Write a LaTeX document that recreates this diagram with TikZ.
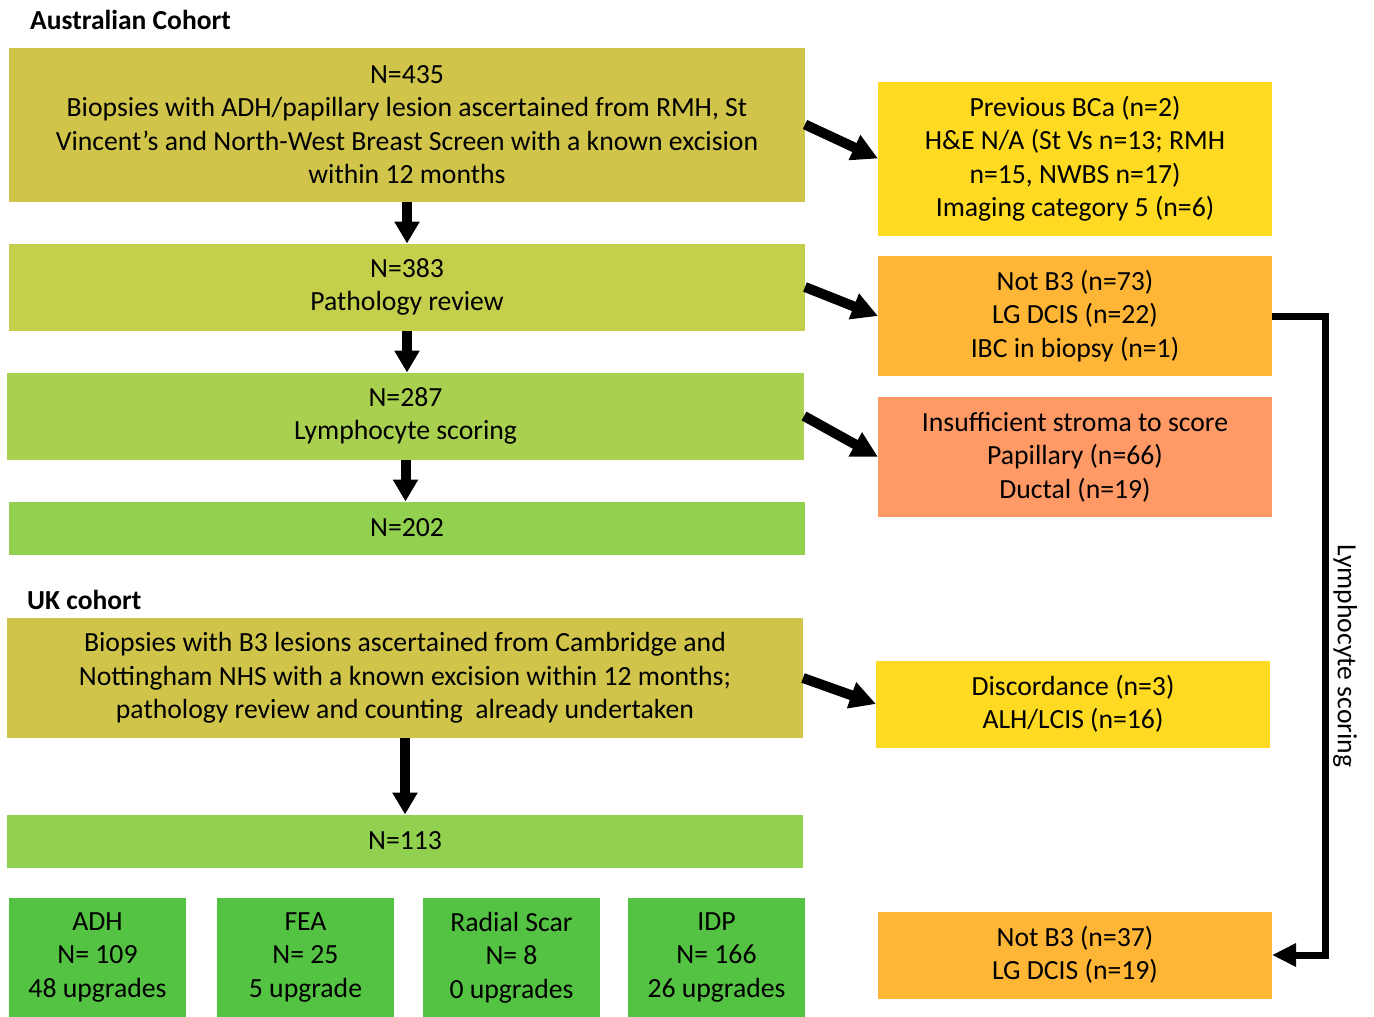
\documentclass[tikz,border=0pt]{standalone}
\usepackage{fontspec}
\setmainfont{Carlito}
\usetikzlibrary{arrows.meta}
\definecolor{cOlive}{RGB}{208,197,74}
\definecolor{cLime}{RGB}{196,208,76}
\definecolor{cYgreen}{RGB}{170,208,80}
\definecolor{cLgreen}{RGB}{146,208,80}
\definecolor{cGreen}{RGB}{84,194,66}
\definecolor{cYellow}{RGB}{255,218,34}
\definecolor{cOrange}{RGB}{255,182,54}
\definecolor{cSalmon}{RGB}{255,153,102}
\begin{document}
\begin{tikzpicture}[x=1pt,y=-1pt,
  box/.style={rectangle, inner sep=0pt, outer sep=0pt, align=center,
              font=\fontsize{27.7}{33.5}\selectfont},
  title/.style={anchor=west, inner sep=0pt, font=\fontsize{27.5}{33}\selectfont\bfseries},
  downarrow/.style={line width=10pt, -{Triangle[width=24pt,length=22pt]}},
  sidearrow/.style={line width=10pt, -{Triangle[width=26pt,length=26pt]}},
  elbowarrow/.style={line width=7pt, -{Triangle[width=22pt,length=24pt]}}
]
\useasboundingbox (0,0) rectangle (1374,1017);

% Titles
\node[title] (t1) at (30,20) {Australian Cohort};
\node[title] (t2) at (27,600) {UK cohort};

% Australian column
\node[box, fill=cOlive, minimum width=796pt, minimum height=154pt] (A1) at (407,124.5)
  {N=435\\Biopsies with ADH/papillary lesion ascertained from RMH, St\\Vincent’s and North-West Breast Screen with a known excision\\within 12 months};
\node[box, fill=cLime, minimum width=796pt, minimum height=87pt] (A2) at (407,287)
  {N=383\\Pathology review};
\node[box, fill=cYgreen, minimum width=797pt, minimum height=87pt] (A3) at (405.5,416)
  {N=287\\Lymphocyte scoring};
\node[box, fill=cLgreen, minimum width=796pt, minimum height=53pt] (A4) at (407,528)
  {N=202};

% Right column
\node[box, fill=cYellow, minimum width=394pt, minimum height=154pt] (R1) at (1075,158.5)
  {Previous BCa (n=2)\\H\&E N/A (St Vs n=13; RMH\\n=15, NWBS n=17)\\Imaging category 5 (n=6)};
\node[box, fill=cOrange, minimum width=394pt, minimum height=120pt] (R2) at (1075,316)
  {Not B3 (n=73)\\LG DCIS (n=22)\\IBC in biopsy (n=1)};
\node[box, fill=cSalmon, minimum width=394pt, minimum height=120pt] (R3) at (1075,457)
  {Insufficient stroma to score\\Papillary (n=66)\\Ductal (n=19)};

% UK column
\node[box, fill=cOlive, minimum width=796pt, minimum height=120pt] (U1) at (405,678)
  {Biopsies with B3 lesions ascertained from Cambridge and\\Nottingham NHS with a known excision within 12 months;\\pathology review and counting\ \ already undertaken};
\node[box, fill=cLgreen, minimum width=796pt, minimum height=53pt] (U2) at (405,841)
  {N=113};
\node[box, fill=cGreen, minimum width=177pt, minimum height=119pt] (B1) at (97.5,957)
  {ADH\\N= 109\\48 upgrades};
\node[box, fill=cGreen, minimum width=177pt, minimum height=119pt] (B2) at (305.5,957)
  {FEA\\N= 25\\5 upgrade};
\node[box, fill=cGreen, minimum width=177pt, minimum height=119pt] (B3) at (511.5,957.5)
  {Radial Scar\\N= 8\\0 upgrades};
\node[box, fill=cGreen, minimum width=177pt, minimum height=119pt] (B4) at (716.5,957)
  {IDP\\N= 166\\26 upgrades};

\node[box, fill=cYellow, minimum width=394pt, minimum height=87pt] (D1) at (1073,704)
  {Discordance (n=3)\\ALH/LCIS (n=16)};
\node[box, fill=cOrange, minimum width=394pt, minimum height=87pt] (D2) at (1075,955)
  {Not B3 (n=37)\\LG DCIS (n=19)};

% Down arrows
\draw[downarrow] (A1.south) -- (A2.north);
\draw[downarrow] (A2.south) -- (A2.south |- A3.north);
\draw[downarrow] (A3.south) -- (A3.south |- A4.north);
\draw[downarrow] (U1.south) -- (U2.north);

% Side arrows
\draw[sidearrow] (A1.east) -- (R1.west);
\draw[sidearrow] (A2.east) -- (R2.west);
\draw[sidearrow] (A3.east) -- (R3.west);
\draw[sidearrow] (U1.east) -- (D1.west);

% Elbow connector
\coordinate (elb) at (1325,316);
\draw[elbowarrow] (R2.east) -- (elb) |- (D2.east);
\node[rotate=-90, inner sep=0pt, font=\fontsize{27.7}{33}\selectfont] (lbl) at (1345,656) {Lymphocyte scoring};

\end{tikzpicture}
\end{document}
